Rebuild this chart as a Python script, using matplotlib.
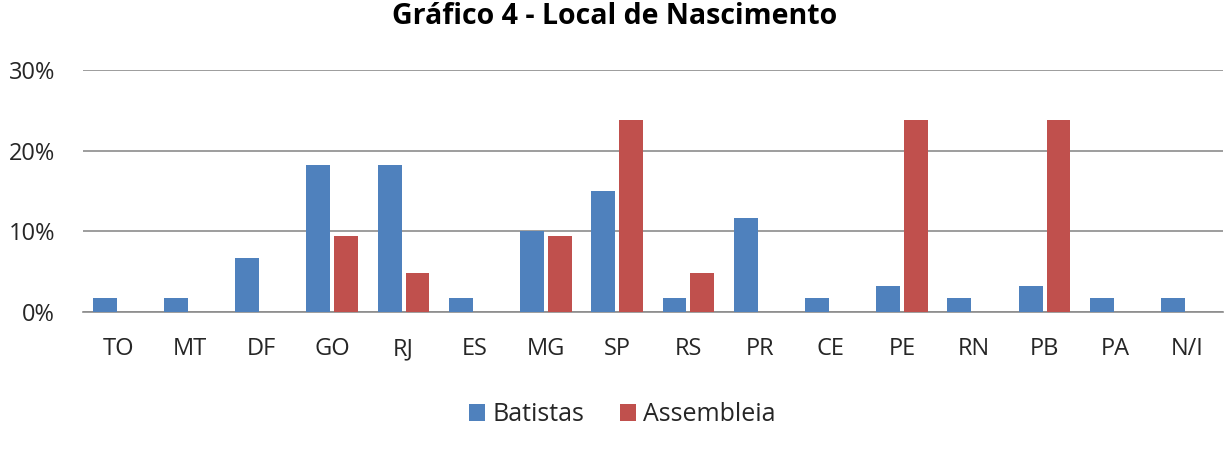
import numpy as np
import matplotlib.pyplot as plt
from matplotlib.ticker import FuncFormatter

plt.rcParams['font.family'] = ['Open Sans', 'DejaVu Sans']

estados = ['TO', 'MT', 'DF', 'GO', 'RJ', 'ES', 'MG', 'SP', 'RS', 'PR', 'CE', 'PE', 'RN', 'PB', 'PA', 'N/I']
batistas = [1.7, 1.7, 6.7, 18.3, 18.3, 1.7, 10.0, 15.0, 1.7, 11.7, 1.7, 3.3, 1.7, 3.3, 1.7, 1.7]
assembleia = [0, 0, 0, 9.5, 4.8, 0, 9.5, 23.8, 4.8, 0, 0, 23.8, 0, 23.8, 0, 0]

fig = plt.figure(figsize=(12.3, 4.53), dpi=100)
ax = fig.add_axes([0.0675, 0.311, 0.9265, 0.534])

x = np.arange(len(estados))
w = 0.335
ax.bar(x - 0.196, batistas, w, color='#4F81BD', label='Batistas', zorder=3)
ax.bar(x + 0.196, assembleia, w, color='#C0504D', label='Assembleia', zorder=3)

ax.set_xlim(-0.5, len(estados) - 0.5)
ax.set_ylim(0, 30)
ax.set_yticks([0, 10, 20, 30])
ax.yaxis.set_major_formatter(FuncFormatter(lambda v, p: '%d%%' % v))
ax.set_xticks(x)
ax.set_xticklabels(estados)
ax.grid(axis='y', color='#8c8c8c', linewidth=1.2, zorder=0)
for s in ['top', 'right', 'left']:
    ax.spines[s].set_visible(False)
ax.spines['bottom'].set_color('#8c8c8c')
ax.spines['bottom'].set_linewidth(1.2)
ax.tick_params(axis='both', length=0, labelsize=17, colors='#262626')
ax.tick_params(axis='y', pad=20)
ax.tick_params(axis='x', pad=18)

fig.text(0.5, 0.963, 'Gráfico 4 - Local de Nascimento', ha='center', va='center',
         fontsize=20.5, fontweight='bold', color='black')

fig.legend(loc='center', bbox_to_anchor=(0.506, 0.085), ncol=2, frameon=False,
           fontsize=18, handlelength=0.65, handleheight=0.65, columnspacing=1.4,
           handletextpad=0.3, labelcolor='#262626')

fig.savefig('out.png', dpi=100)
